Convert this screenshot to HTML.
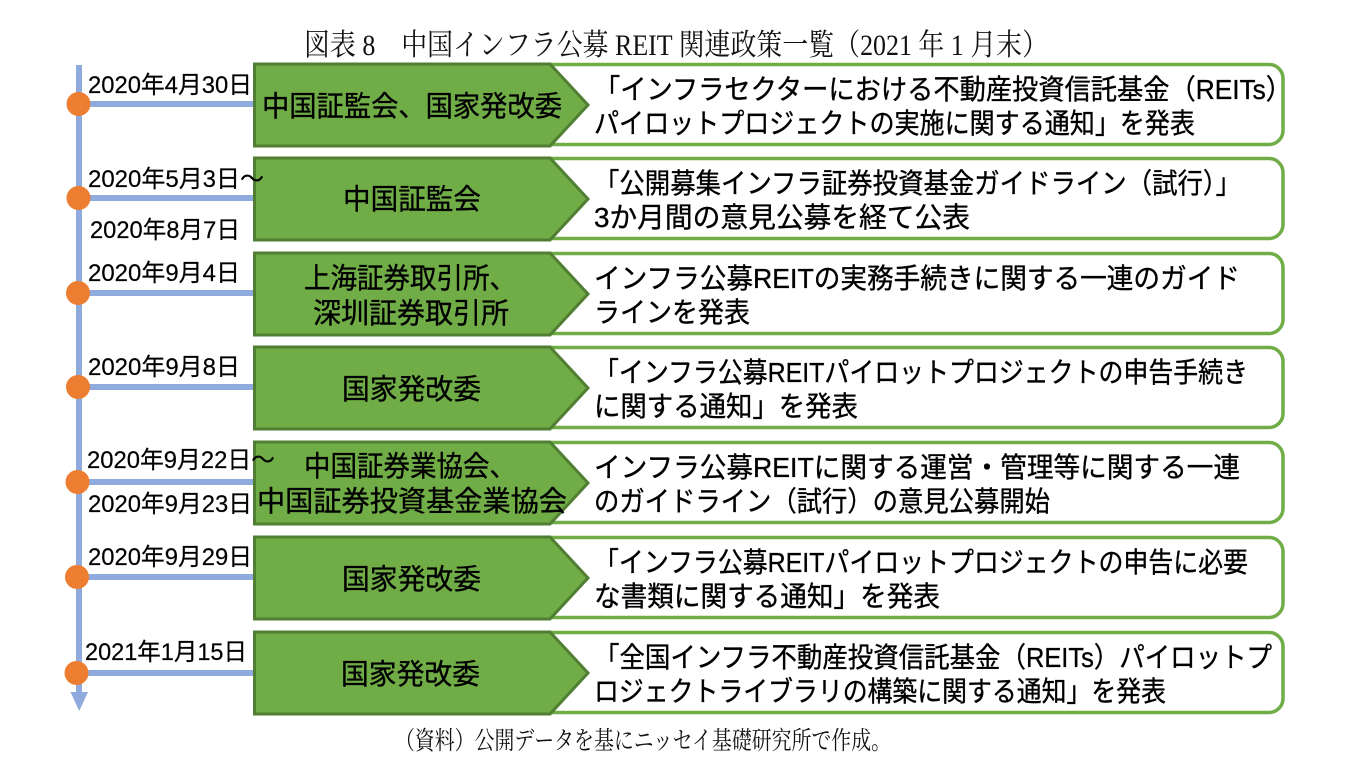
<!DOCTYPE html>
<html>
<head>
<meta charset="utf-8">
<style>
  html, body { margin: 0; padding: 0; background: #ffffff; }
  body { width: 1346px; height: 773px; overflow: hidden; }
  svg { display: block; }
  .t { font-family: "Liberation Sans", "Noto Sans CJK JP", sans-serif; fill: #000; stroke: #000; stroke-width: 0.35; }
  .s { font-family: "Liberation Serif", "Noto Serif CJK SC", serif; fill: #111; }
</style>
</head>
<body>
<svg width="1346" height="773" viewBox="0 0 1346 773" xmlns="http://www.w3.org/2000/svg">
  <rect x="0" y="0" width="1346" height="773" fill="#ffffff"/>

  <!-- Title -->
  <text class="s" x="304" y="55" font-size="30" textLength="744" lengthAdjust="spacingAndGlyphs">図表 8　中国インフラ公募 REIT 関連政策一覧（2021 年 1 月末）</text>

  <!-- Timeline vertical line + arrow -->
  <rect x="76" y="65" width="6" height="628" fill="#8FAADC"/>
  <polygon points="70.5,692 88,692 79.2,711" fill="#8FAADC"/>

  <!-- Horizontal connectors -->
  <g fill="#8FAADC">
    <rect x="78" y="101" width="180" height="6"/>
    <rect x="78" y="195" width="180" height="6"/>
    <rect x="78" y="290" width="180" height="6"/>
    <rect x="78" y="384" width="180" height="6"/>
    <rect x="78" y="479" width="180" height="6"/>
    <rect x="78" y="574" width="180" height="6"/>
    <rect x="78" y="670" width="180" height="6"/>
  </g>

  <!-- Circles -->
  <g fill="#ED7D31">
    <circle cx="78.5" cy="104" r="12"/>
    <circle cx="78.5" cy="198" r="12"/>
    <circle cx="78" cy="293" r="12"/>
    <circle cx="78" cy="387" r="12"/>
    <circle cx="77.5" cy="482" r="12"/>
    <circle cx="77" cy="577" r="12"/>
    <circle cx="76.5" cy="673" r="12"/>
  </g>

  <!-- White rounded boxes -->
  <g fill="#ffffff" stroke="#70AD47" stroke-width="3.5">
    <rect x="262" y="64.5" width="1021" height="80" rx="14" ry="14"/>
    <rect x="262" y="158.5" width="1021" height="80" rx="14" ry="14"/>
    <rect x="262" y="253.5" width="1021" height="80" rx="14" ry="14"/>
    <rect x="262" y="347.5" width="1021" height="80" rx="14" ry="14"/>
    <rect x="262" y="442.5" width="1021" height="80" rx="14" ry="14"/>
    <rect x="262" y="537.5" width="1021" height="80" rx="14" ry="14"/>
    <rect x="262" y="632.5" width="1021" height="80" rx="14" ry="14"/>
  </g>

  <!-- Green pentagons -->
  <g fill="#70AD47" stroke="#507E32" stroke-width="3" stroke-linejoin="miter">
    <path d="M254.5,64 L550,64 L588,105 L550,146 L254.5,146 Z"/>
    <path d="M254.5,158 L550,158 L588,199 L550,240 L254.5,240 Z"/>
    <path d="M254.5,253 L550,253 L588,294 L550,335 L254.5,335 Z"/>
    <path d="M254.5,347 L550,347 L588,388 L550,429 L254.5,429 Z"/>
    <path d="M254.5,442 L550,442 L588,483 L550,524 L254.5,524 Z"/>
    <path d="M254.5,537 L550,537 L588,578 L550,619 L254.5,619 Z"/>
    <path d="M254.5,632 L550,632 L588,673 L550,714 L254.5,714 Z"/>
  </g>

  <!-- Green box labels -->
  <g class="t" font-size="28.5">
    <text x="262" y="116" textLength="300" lengthAdjust="spacingAndGlyphs">中国証監会、国家発改委</text>
    <text x="343" y="209" textLength="138" lengthAdjust="spacingAndGlyphs">中国証監会</text>
    <text x="304" y="288" textLength="212" lengthAdjust="spacingAndGlyphs">上海証券取引所、</text>
    <text x="313" y="323" textLength="196" lengthAdjust="spacingAndGlyphs">深圳証券取引所</text>
    <text x="342" y="399" textLength="139" lengthAdjust="spacingAndGlyphs">国家発改委</text>
    <text x="304" y="476" textLength="212" lengthAdjust="spacingAndGlyphs">中国証券業協会、</text>
    <text x="257" y="511" textLength="310" lengthAdjust="spacingAndGlyphs">中国証券投資基金業協会</text>
    <text x="342" y="589" textLength="139" lengthAdjust="spacingAndGlyphs">国家発改委</text>
    <text x="341" y="684" textLength="139" lengthAdjust="spacingAndGlyphs">国家発改委</text>
  </g>

  <!-- Main description texts -->
  <g class="t" font-size="28">
    <text x="594" y="99" textLength="698" lengthAdjust="spacingAndGlyphs">「インフラセクターにおける不動産投資信託基金（REITs）</text>
    <text x="594" y="133" textLength="601" lengthAdjust="spacingAndGlyphs">パイロットプロジェクトの実施に関する通知」を発表</text>

    <text x="594" y="193" textLength="647" lengthAdjust="spacingAndGlyphs">「公開募集インフラ証券投資基金ガイドライン（試行）」</text>
    <text x="594" y="227" textLength="376" lengthAdjust="spacingAndGlyphs">3か月間の意見公募を経て公表</text>

    <text x="594" y="288" textLength="646" lengthAdjust="spacingAndGlyphs">インフラ公募REITの実務手続きに関する一連のガイド</text>
    <text x="594" y="322" textLength="156" lengthAdjust="spacingAndGlyphs">ラインを発表</text>

    <text x="594" y="382" textLength="654" lengthAdjust="spacingAndGlyphs">「インフラ公募REITパイロットプロジェクトの申告手続き</text>
    <text x="594" y="416" textLength="264" lengthAdjust="spacingAndGlyphs">に関する通知」を発表</text>

    <text x="594" y="477" textLength="646" lengthAdjust="spacingAndGlyphs">インフラ公募REITに関する運営・管理等に関する一連</text>
    <text x="594" y="511" textLength="456" lengthAdjust="spacingAndGlyphs">のガイドライン（試行）の意見公募開始</text>

    <text x="594" y="572" textLength="654" lengthAdjust="spacingAndGlyphs">「インフラ公募REITパイロットプロジェクトの申告に必要</text>
    <text x="594" y="606" textLength="346" lengthAdjust="spacingAndGlyphs">な書類に関する通知」を発表</text>

    <text x="594" y="667" textLength="678" lengthAdjust="spacingAndGlyphs">「全国インフラ不動産投資信託基金（REITs）パイロットプ</text>
    <text x="594" y="701" textLength="572" lengthAdjust="spacingAndGlyphs">ロジェクトライブラリの構築に関する通知」を発表</text>
  </g>

  <!-- Date labels -->
  <g class="t" font-size="24" style="stroke-width:0.2">
    <text x="88" y="93" textLength="164" lengthAdjust="spacingAndGlyphs">2020年4月30日</text>
    <text x="88" y="187" textLength="176" lengthAdjust="spacingAndGlyphs">2020年5月3日～</text>
    <text x="90" y="238" textLength="150" lengthAdjust="spacingAndGlyphs">2020年8月7日</text>
    <text x="88" y="281" textLength="152" lengthAdjust="spacingAndGlyphs">2020年9月4日</text>
    <text x="88" y="375" textLength="152" lengthAdjust="spacingAndGlyphs">2020年9月8日</text>
    <text x="87" y="468" textLength="188" lengthAdjust="spacingAndGlyphs">2020年9月22日～</text>
    <text x="88" y="512" textLength="164" lengthAdjust="spacingAndGlyphs">2020年9月23日</text>
    <text x="88" y="565" textLength="164" lengthAdjust="spacingAndGlyphs">2020年9月29日</text>
    <text x="85" y="660" textLength="162" lengthAdjust="spacingAndGlyphs">2021年1月15日</text>
  </g>

  <!-- Footer -->
  <text class="s" x="395" y="749" font-size="25" textLength="496" lengthAdjust="spacingAndGlyphs">（資料）公開データを基にニッセイ基礎研究所で作成。</text>
</svg>
</body>
</html>
